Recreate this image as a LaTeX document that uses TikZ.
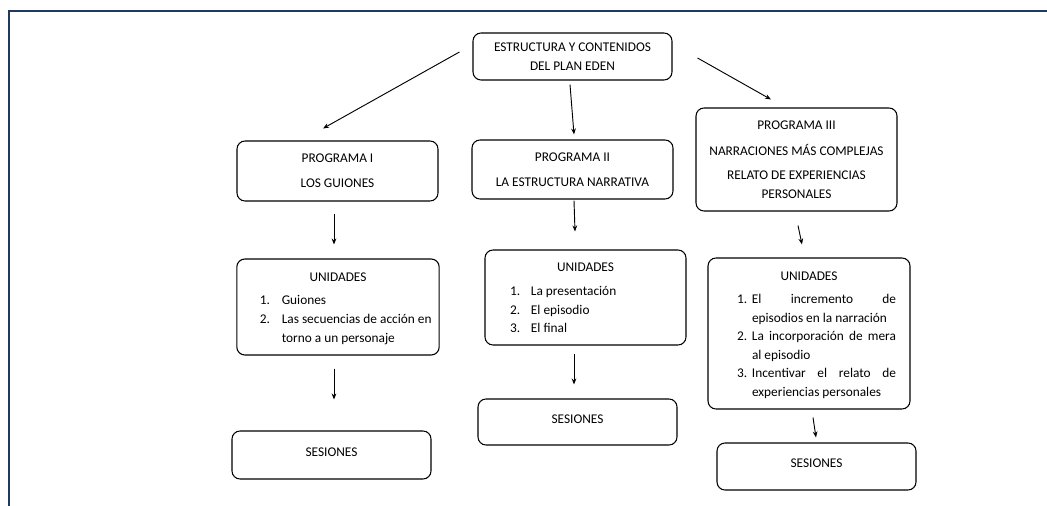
\documentclass[tikz,border=0pt]{standalone}
\usepackage{fontspec}
\setmainfont{Carlito}
\usepackage{tikz}
\usetikzlibrary{arrows.meta}
\definecolor{framenavy}{RGB}{31,56,100}

\begin{document}
\begin{tikzpicture}[x=0.75pt,y=0.75pt,yscale=-1,xscale=1,
    box/.style={draw, rounded corners=6pt, line width=0.8pt, inner sep=0pt, align=center,
        font=\fontsize{10}{13.9}\selectfont},
    sesbox/.style={box, text height=6.6pt, text depth=4.5pt},
    arr/.style={-{Stealth[length=4.5pt,width=3.5pt]}, line width=0.7pt}]
        \useasboundingbox (0,0) rectangle (1047,506);
        %Frame lines
        \draw [framenavy, line width=1.5pt] (9,506) -- (9,11.5) -- (1047,11.5);

        %Top box
        \node [box, minimum width=149.25pt, minimum height=35.25pt] (top) at (572.5,56.5)
            {ESTRUCTURA Y CONTENIDOS\\DEL PLAN EDEN};

        %Programas
        \node [box, minimum width=150.75pt, minimum height=45pt] (progI) at (337.5,171)
            {PROGRAMA I\\[4.8pt]LOS GUIONES};
        \node [box, minimum width=150.75pt, minimum height=44.25pt] (progII) at (572.5,169.5)
            {PROGRAMA II\\[4.8pt]LA ESTRUCTURA NARRATIVA};
        \node [box, minimum width=150.75pt, minimum height=77.25pt] (progIII) at (796.5,159.5)
            {PROGRAMA III\\[5.6pt]NARRACIONES MÁS COMPLEJAS\\[4.1pt]RELATO DE EXPERIENCIAS\\PERSONALES};

        %Unidades
        \node [box, minimum width=151.5pt, minimum height=72pt] (unidI) at (338,307)
            {\rule{0pt}{11.6pt}UNIDADES\\[3.4pt]\hspace*{17.25pt}\begin{tabular}[t]{@{}p{16.5pt}@{}p{118pt}@{}}
            1. & Guiones\\
            2. & Las secuencias de acción en\newline torno a un personaje
            \end{tabular}};
        \node [box, minimum width=150.75pt, minimum height=71.25pt] (unidII) at (585.5,297.5)
            {\rule{0pt}{11.6pt}UNIDADES\\[4.1pt]\hspace*{-7.5pt}\begin{tabular}[t]{@{}p{15.75pt}@{}p{90pt}@{}}
            1. & La presentación\\
            2. & El episodio\\
            3. & El final
            \end{tabular}};
        \node [box, minimum width=151.5pt, minimum height=113.25pt] (unidIII) at (809,333.5)
            {\rule{0pt}{11.6pt}UNIDADES\\[3.4pt]\hspace*{11.25pt}\begin{tabular}[t]{@{}p{11.25pt}@{}p{108pt}@{}}
            1. & \makebox[\linewidth][s]{El incremento de}\newline episodios en la narración\\
            2. & \makebox[\linewidth][s]{La incorporación de mera}\newline al episodio\\
            3. & \makebox[\linewidth][s]{Incentivar el relato de}\newline experiencias personales
            \end{tabular}};

        %Sesiones
        \node [sesbox, minimum width=149.25pt, minimum height=36pt] (sesI) at (331.5,455) {SESIONES};
        \node [sesbox, minimum width=149.25pt, minimum height=34.5pt] (sesII) at (577.5,422) {SESIONES};
        \node [sesbox, minimum width=149.25pt, minimum height=35.25pt] (sesIII) at (816.5,466.5) {SESIONES};

        %Arrows
        \draw [arr] ([shift={(-13,-4.5)}]top.west) -- ([shift={(-14.5,-12)}]progI.north);
        \draw [arr] ([shift={(-2.5,4)}]top.south) -- ([shift={(1.5,-5)}]progII.north);
        \draw [arr] ([shift={(25,1.5)}]top.east) -- ([shift={(-25.5,-8)}]progIII.north);
        \draw [arr] ([shift={(-3.5,12)}]progI.south) -- ([shift={(-4,-14)}]unidI.north);
        \draw [arr] ([shift={(1.5,1)}]progII.south) -- ([shift={(-10.5,-18)}]unidII.north);
        \draw [arr] ([shift={(1.5,14)}]progIII.south) -- ([shift={(-7,-13)}]unidIII.north);
        \draw [arr] ([shift={(-4,13)}]unidI.south) -- ([shift={(2.5,-31)}]sesI.north);
        \draw [arr] ([shift={(-11.5,8)}]unidII.south) -- ([shift={(-3.5,-14)}]sesII.north);
        \draw [arr] ([shift={(4,8)}]unidIII.south) -- ([shift={(-0.5,-5)}]sesIII.north);
\end{tikzpicture}
\end{document}
